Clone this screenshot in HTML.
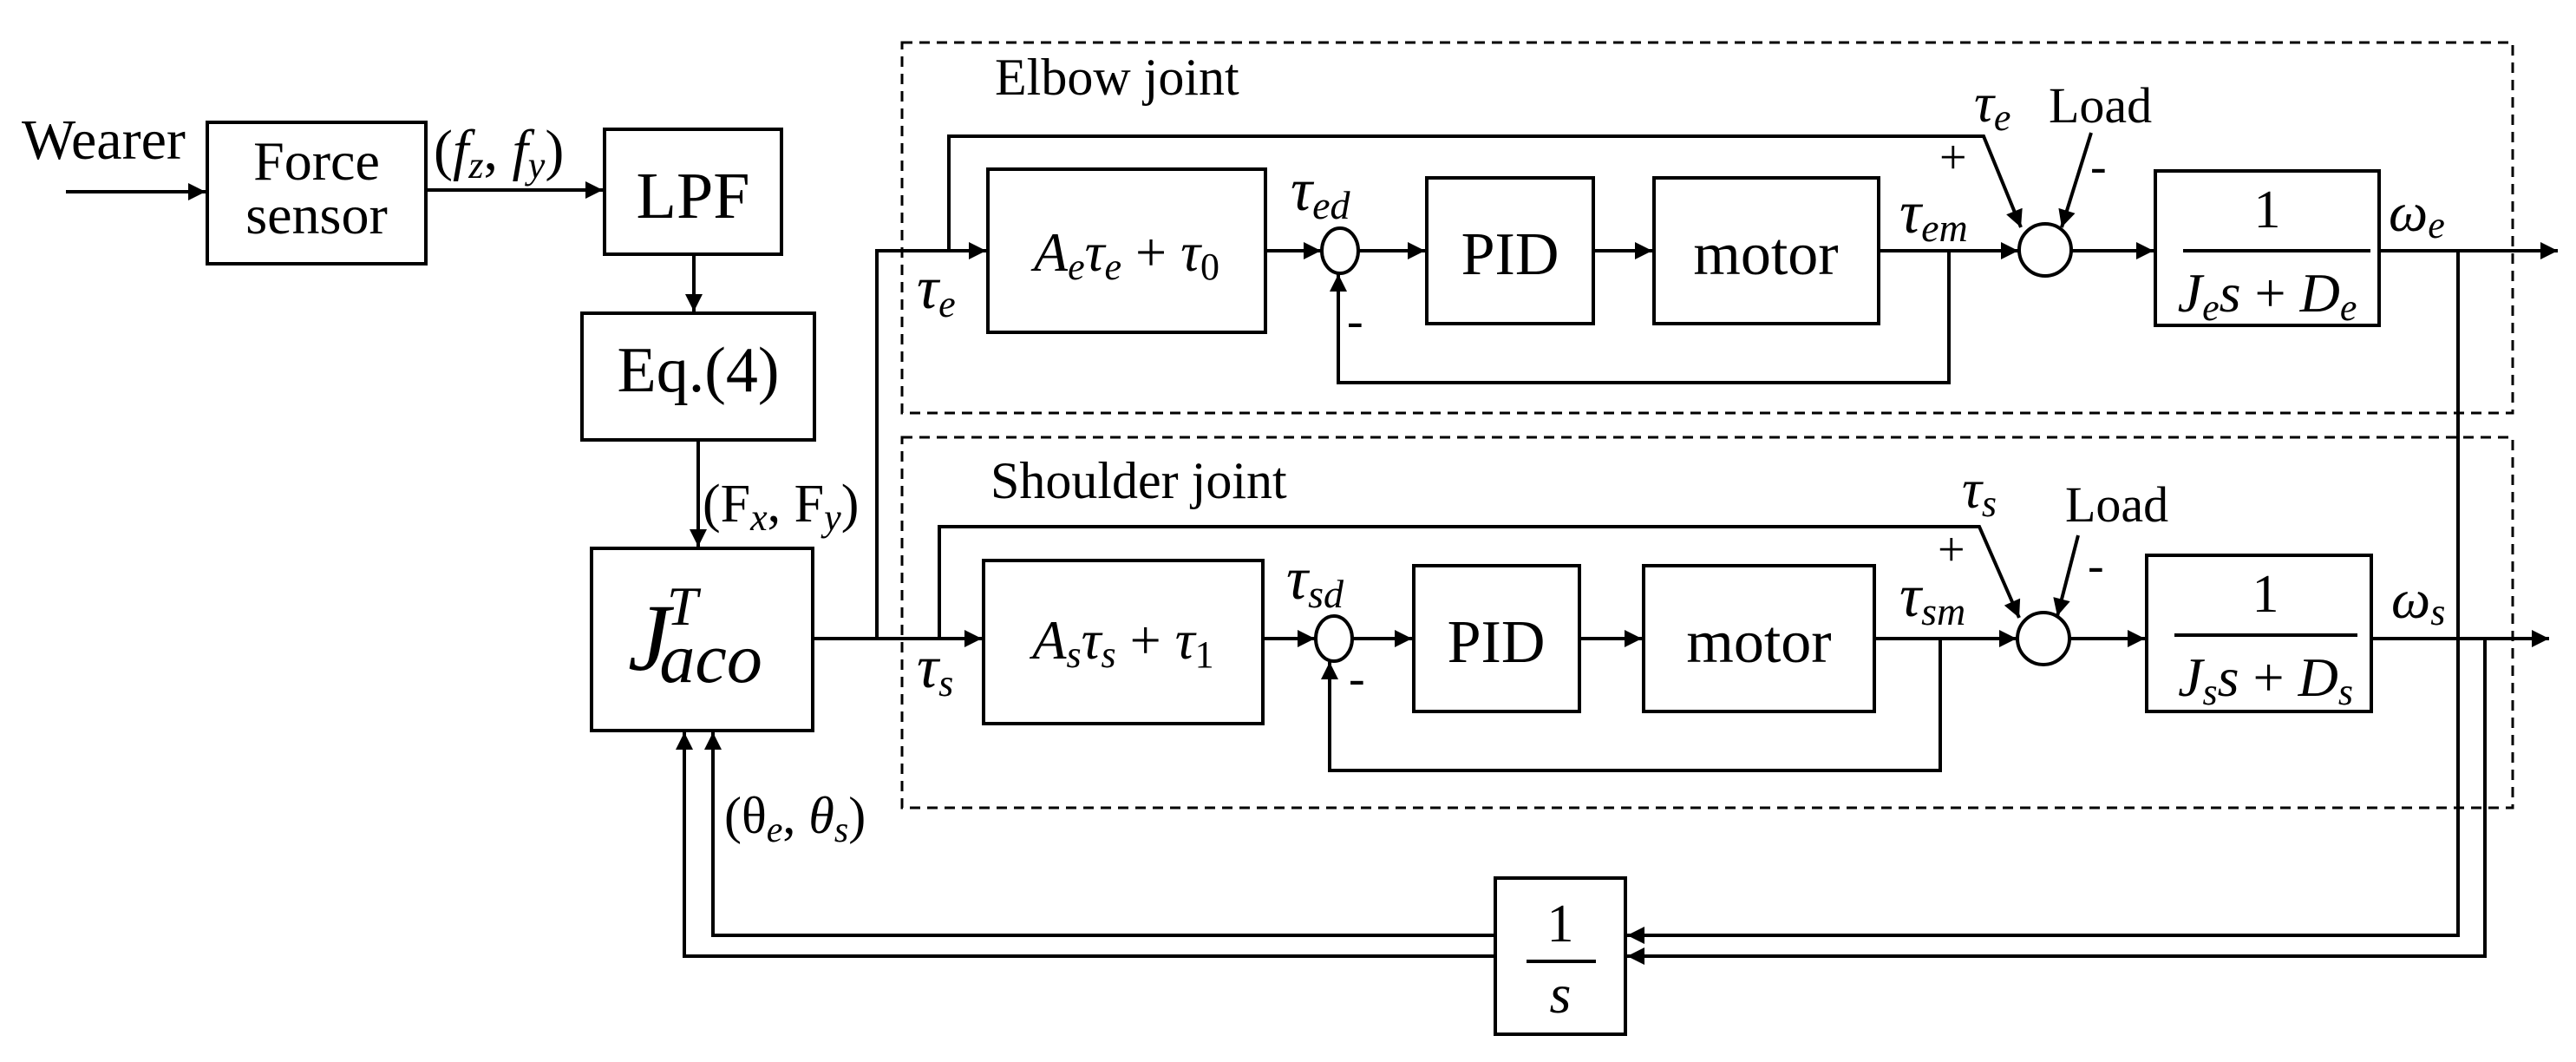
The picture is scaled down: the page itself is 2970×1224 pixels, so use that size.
<!DOCTYPE html>
<html><head><meta charset="utf-8"><style>
html,body{margin:0;padding:0;background:#fff}
svg{display:block}
text{font-family:"Liberation Serif","DejaVu Serif",serif;fill:#000}
.m{font-style:italic}
</style></head><body>
<svg width="2970" height="1224" viewBox="0 0 2970 1224" xmlns="http://www.w3.org/2000/svg">
<defs>
<marker id="a" viewBox="0 0 10 10" refX="10" refY="5" markerWidth="6" markerHeight="5" orient="auto" markerUnits="strokeWidth">
<path d="M0,0 L10,5 L0,10 z" fill="#000"/></marker>
</defs>
<g fill="none" stroke="#000" stroke-width="3" stroke-dasharray="12,8">
<rect x="1040" y="49" width="1857" height="427"/>
<rect x="1040" y="504" width="1857" height="427"/>
</g>
<g fill="#fff" stroke="#000" stroke-width="4">
<rect x="239" y="141" width="252" height="163"/>
<rect x="697" y="149" width="204" height="144"/>
<rect x="671" y="361" width="268" height="146"/>
<rect x="682" y="632" width="255" height="210"/>
<rect x="1139" y="195" width="320" height="188"/>
<rect x="1645" y="205" width="192" height="168"/>
<rect x="1907" y="205" width="259" height="168"/>
<rect x="2485" y="197" width="258" height="178"/>
<rect x="1134" y="646" width="322" height="188"/>
<rect x="1630" y="652" width="191" height="168"/>
<rect x="1895" y="652" width="266" height="168"/>
<rect x="2475" y="640" width="259" height="180"/>
<rect x="1724" y="1012" width="150" height="180"/>
<ellipse cx="1545" cy="289" rx="21" ry="26"/>
<ellipse cx="1538" cy="736" rx="21" ry="26"/>
<circle cx="2358" cy="288" r="30"/>
<circle cx="2356" cy="736" r="30"/>
</g>
<g fill="none" stroke="#000" stroke-width="4">
<line x1="2517" y1="289" x2="2733" y2="289"/>
<line x1="2507" y1="732" x2="2718" y2="732"/>
<line x1="1760" y1="1108" x2="1840" y2="1108"/>
</g>
<g fill="none" stroke="#000" stroke-width="4" marker-end="url(#a)">
<line x1="76" y1="221" x2="237" y2="221"/>
<line x1="491" y1="219" x2="695" y2="219"/>
<line x1="800" y1="293" x2="800" y2="359"/>
<line x1="805" y1="507" x2="805" y2="630"/>
<polyline points="937,736 1011,736 1011,289 1137,289"/>
<polyline points="1011,736 1132,736"/>
<line x1="1459" y1="289" x2="1523" y2="289"/>
<line x1="1566" y1="289" x2="1643" y2="289"/>
<line x1="1837" y1="289" x2="1905" y2="289"/>
<line x1="2166" y1="289" x2="2327" y2="289"/>
<polyline points="2247,289 2247,441 1543,441 1543,316"/>
<polyline points="1094,289 1094,157 2287,157 2330,262"/>
<line x1="2411" y1="153" x2="2377" y2="262"/>
<line x1="2388" y1="289" x2="2483" y2="289"/>
<line x1="2743" y1="289" x2="2949" y2="289"/>
<line x1="1456" y1="736" x2="1516" y2="736"/>
<line x1="1559" y1="736" x2="1628" y2="736"/>
<line x1="1821" y1="736" x2="1893" y2="736"/>
<line x1="2161" y1="736" x2="2325" y2="736"/>
<polyline points="2237,736 2237,888 1533,888 1533,763"/>
<polyline points="1083,736 1083,607 2282,607 2328,712"/>
<line x1="2396" y1="617" x2="2372" y2="710"/>
<line x1="2386" y1="736" x2="2473" y2="736"/>
<line x1="2734" y1="736" x2="2939" y2="736"/>
<polyline points="2834,289 2834,1078 1876,1078"/>
<polyline points="2865,736 2865,1102 1876,1102"/>
<polyline points="1724,1078 822,1078 822,844"/>
<polyline points="1724,1102 789,1102 789,844"/>
</g>
<g font-size="64">
<text x="25" y="183" font-size="66">Wearer</text>
<text x="365" y="207" text-anchor="middle">Force</text>
<text x="365" y="269" text-anchor="middle">sensor</text>
<text x="799" y="251" text-anchor="middle" font-size="76">LPF</text>
<text x="805" y="451" text-anchor="middle" font-size="74">Eq.(4)</text>
<text x="1741" y="316" text-anchor="middle" font-size="70">PID</text>
<text x="2036" y="316" text-anchor="middle" font-size="70">motor</text>
<text x="1725" y="763" text-anchor="middle" font-size="70">PID</text>
<text x="2028" y="763" text-anchor="middle" font-size="70">motor</text>
<text x="1147" y="109" font-size="60">Elbow joint</text>
<text x="1142" y="574" font-size="60">Shoulder joint</text>
<text x="2362" y="141" font-size="58">Load</text>
<text x="2381" y="601" font-size="58">Load</text>
<text x="2614" y="262" text-anchor="middle" font-size="62">1</text>
<text x="2612" y="705" text-anchor="middle" font-size="62">1</text>
<text x="1799" y="1085" text-anchor="middle" font-size="62">1</text>
<text x="2236" y="200" font-size="56">+</text>
<text x="2234" y="652" font-size="56">+</text>
<text x="2410" y="210" font-size="56">-</text>
<text x="2407" y="670" font-size="56">-</text>
<text x="1553" y="388" font-size="56">-</text>
<text x="1555" y="800" font-size="56">-</text>
</g>
<g font-size="64">
<text x="500" y="195" font-size="66">(<tspan class="m">f</tspan><tspan class="m" font-size="44" dy="10">z</tspan><tspan dy="-10">, </tspan><tspan class="m">f</tspan><tspan class="m" font-size="44" dy="10">y</tspan><tspan dy="-10">)</tspan></text>
<text x="810" y="601" font-size="62">(F<tspan class="m" font-size="44" dy="10">x</tspan><tspan dy="-10">, F</tspan><tspan class="m" font-size="44" dy="10">y</tspan><tspan dy="-10">)</tspan></text>
<text x="835" y="960" font-size="60">(θ<tspan class="m" font-size="42" dy="10">e</tspan><tspan dy="-10">, </tspan><tspan class="m">θ</tspan><tspan class="m" font-size="42" dy="10">s</tspan><tspan dy="-10">)</tspan></text>
<text x="724" y="772" class="m" font-size="110">J<tspan font-size="64" dy="-52" dx="-4">T</tspan><tspan font-size="82" dy="66" dx="-44">aco</tspan></text>
<text x="1057" y="355" class="m" font-size="70">τ<tspan font-size="44" dy="10">e</tspan></text>
<text x="1057" y="792" class="m" font-size="70">τ<tspan font-size="44" dy="10">s</tspan></text>
<text x="1299" y="312" text-anchor="middle" class="m" font-size="64">A<tspan font-size="44" dy="10">e</tspan><tspan dy="-10">τ</tspan><tspan font-size="44" dy="10">e</tspan><tspan dy="-10" font-style="normal"> + </tspan><tspan>τ</tspan><tspan font-size="44" dy="10" font-style="normal">0</tspan></text>
<text x="1295" y="759" text-anchor="middle" class="m" font-size="64">A<tspan font-size="44" dy="10">s</tspan><tspan dy="-10">τ</tspan><tspan font-size="44" dy="10">s</tspan><tspan dy="-10" font-style="normal"> + </tspan><tspan>τ</tspan><tspan font-size="44" dy="10" font-style="normal">1</tspan></text>
<text x="1488" y="242" class="m" font-size="70">τ<tspan font-size="46" dy="10">ed</tspan></text>
<text x="1483" y="690" class="m" font-size="70">τ<tspan font-size="46" dy="10">sd</tspan></text>
<text x="2190" y="268" class="m" font-size="70">τ<tspan font-size="46" dy="10">em</tspan></text>
<text x="2190" y="710" class="m" font-size="70">τ<tspan font-size="46" dy="10">sm</tspan></text>
<text x="2276" y="140" class="m">τ<tspan font-size="44" dy="10">e</tspan></text>
<text x="2262" y="585" class="m">τ<tspan font-size="44" dy="10">s</tspan></text>
<text x="2614" y="359" text-anchor="middle" class="m" font-size="64">J<tspan font-size="44" dy="10">e</tspan><tspan dy="-10">s</tspan><tspan font-style="normal"> + </tspan><tspan>D</tspan><tspan font-size="44" dy="10">e</tspan></text>
<text x="2612" y="802" text-anchor="middle" class="m" font-size="64">J<tspan font-size="44" dy="10">s</tspan><tspan dy="-10">s</tspan><tspan font-style="normal"> + </tspan><tspan>D</tspan><tspan font-size="44" dy="10">s</tspan></text>
<text x="2754" y="266" class="m">ω<tspan font-size="44" dy="8">e</tspan></text>
<text x="2757" y="712" class="m">ω<tspan font-size="44" dy="8">s</tspan></text>
<text x="1799" y="1167" text-anchor="middle" class="m" font-size="64">s</text>
</g>
</svg>
</body></html>
